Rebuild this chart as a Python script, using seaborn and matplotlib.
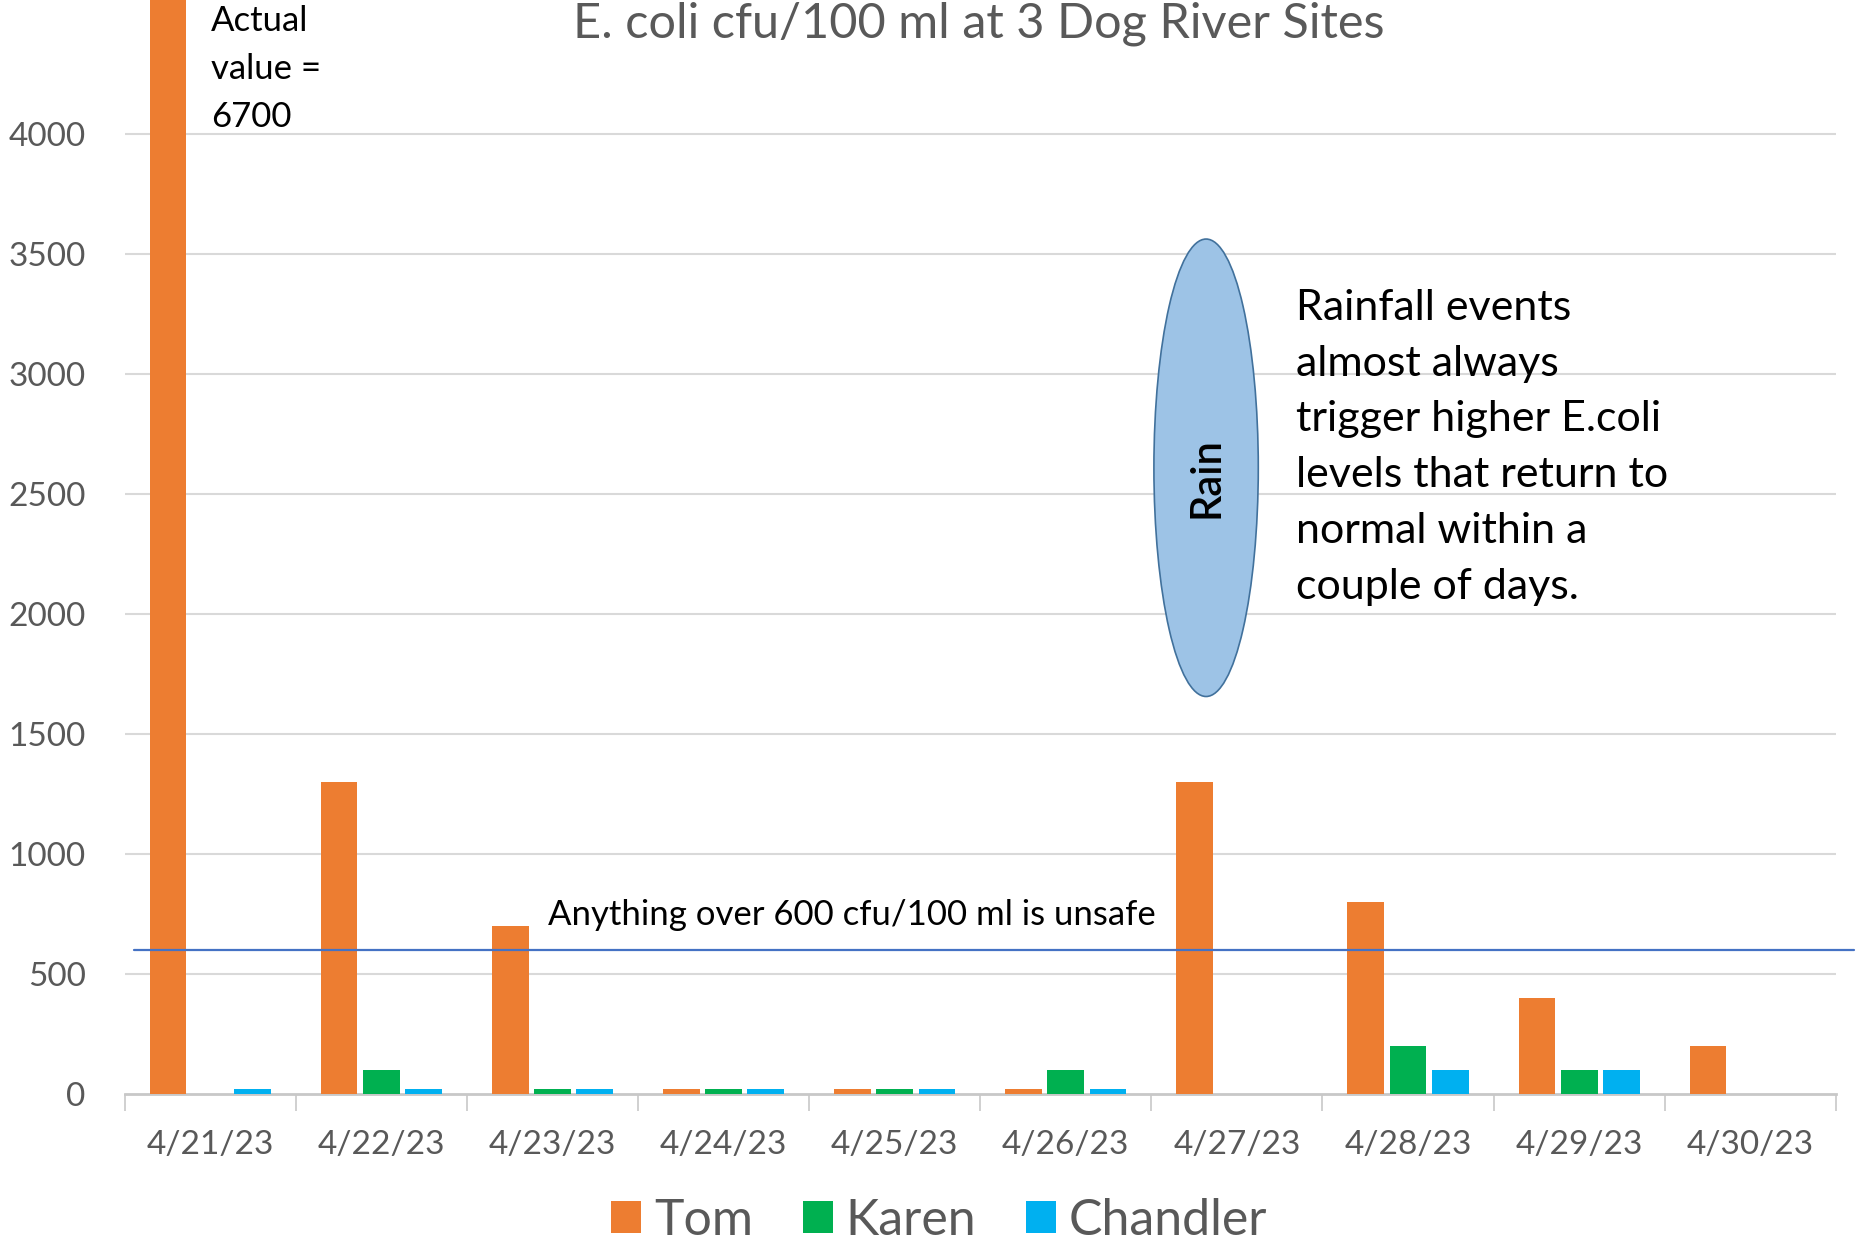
import pandas as pd
import numpy as np
import matplotlib.pyplot as plt
import seaborn as sns
from matplotlib.patches import Ellipse

# ---- data ----
dates = ["4/21/23", "4/22/23", "4/23/23", "4/24/23", "4/25/23",
         "4/26/23", "4/27/23", "4/28/23", "4/29/23", "4/30/23"]
tom = [6700, 1300, 700, 20, 20, 20, 1300, 800, 400, 200]
karen = [0, 100, 20, 20, 20, 100, 0, 200, 100, 0]
chandler = [20, 20, 20, 20, 20, 20, 0, 100, 100, 0]
sites = ["Tom", "Karen", "Chandler"]
site_colors = ["#ED7D31", "#00B050", "#00B0F0"]
yticks = [0, 500, 1000, 1500, 2000, 2500, 3000, 3500, 4000]
unsafe_level = 600

df = pd.DataFrame({"date": dates * 3,
                   "site": np.repeat(sites, len(dates)),
                   "cfu": tom + karen + chandler})

sns.set_theme(style="white")
plt.rcParams["font.family"] = ["Lato", "DejaVu Sans"]

fig = plt.figure(figsize=(18.6, 12.41), dpi=100)
ax = fig.add_axes([0.067, 0.1185, 0.92, 0.8815])

sns.barplot(data=df, x="date", y="cfu", hue="site", hue_order=sites,
            palette=site_colors, saturation=1, width=0.74, gap=0.13,
            linewidth=0, ax=ax, zorder=3)

ax.set_ylim(0, 4558)
ax.set_xlim(-0.5, len(dates) - 0.5)
ax.set_yticks(yticks)
ax.set_xlabel("")
ax.set_ylabel("")

# grid + axes styling (Excel look)
for y in yticks[1:]:
    ax.axhline(y, color="#D9D9D9", lw=1.5, zorder=0)
for s in ["left", "right", "top"]:
    ax.spines[s].set_visible(False)
ax.spines["bottom"].set_color("#C8C8C8")
ax.spines["bottom"].set_linewidth(2)

ax.tick_params(axis="y", length=0, pad=28, labelsize=24, labelcolor="#595959")
ax.tick_params(axis="x", which="major", length=0, pad=26, labelsize=24,
               labelcolor="#595959")
ax.set_xticks(np.arange(-0.5, len(dates), 1.0), minor=True)
ax.tick_params(axis="x", which="minor", length=12, width=1.2, color="#C8C8C8",
               bottom=True)

# unsafe threshold
ax.axhline(unsafe_level, xmin=0.0055, xmax=1.0104, color="#4472C4", lw=1.6,
           zorder=4, clip_on=False)
ax.text(1.974, 746, "Anything over 600 cfu/100 ml is unsafe", fontsize=25,
        color="black", va="center", ha="left", zorder=5)

# rain marker
rain = Ellipse((5.82, 2609), width=0.61, height=1906, facecolor="#9DC3E6",
               edgecolor="#41719C", lw=1.2, zorder=5)
ax.add_patch(rain)
ax.text(5.82, 2570, "Rain", rotation=90, fontsize=30, fontweight="semibold",
        color="black", ha="center", va="center", zorder=6)

fig.text(0.697, 0.767,
         "Rainfall events\nalmost always\ntrigger higher E.coli\n"
         "levels that return to\nnormal within a\ncouple of days.",
         fontsize=31, color="black", ha="left", va="top", linespacing=1.57)

fig.text(0.1135, 0.996, "Actual\nvalue =\n6700", fontsize=25, color="black",
         ha="left", va="top", linespacing=1.62)

# title sits at the very top edge, as in the screenshot
fig.text(0.526, 0.999, "E. coli cfu/100 ml at 3 Dog River Sites", fontsize=35,
         color="#595959", ha="center", va="top")

sns.move_legend(ax, "lower center", bbox_to_anchor=(0.476, -0.178), ncol=3,
                frameon=False, title=None, fontsize=36, handlelength=0.6,
                handleheight=0.6, handletextpad=0.25, columnspacing=1.0,
                labelcolor="#595959")

plt.savefig("out.png", dpi=100)
plt.close()
